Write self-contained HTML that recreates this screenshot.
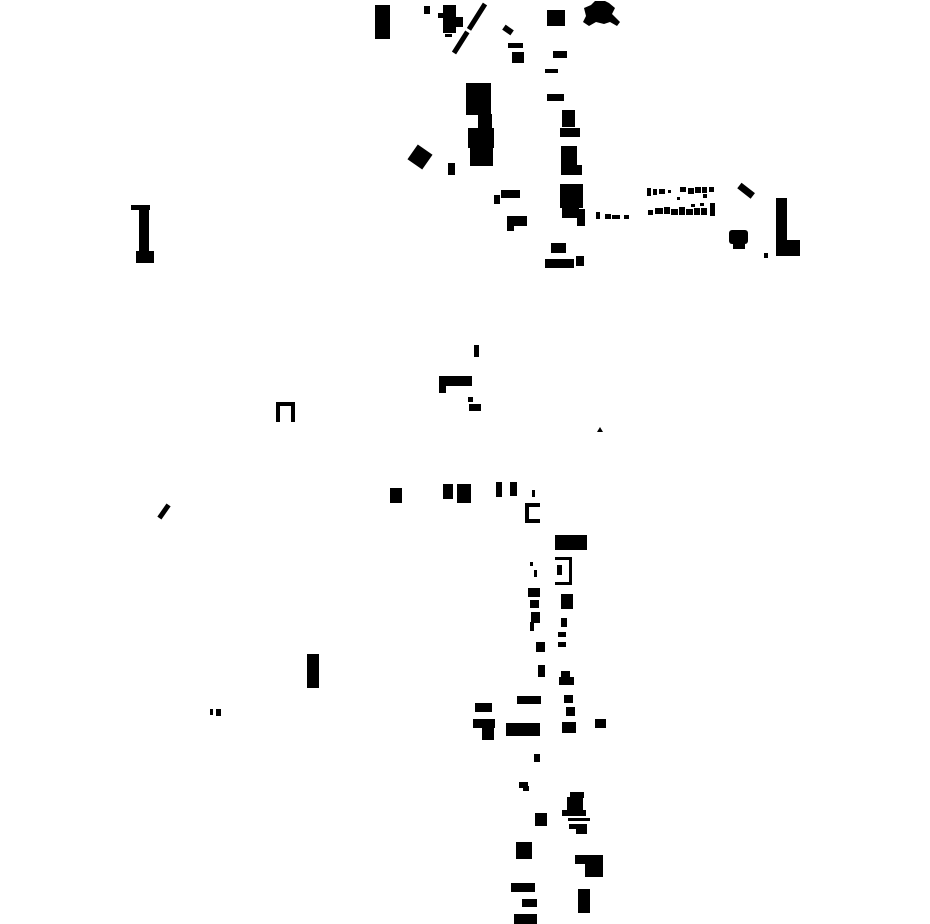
<!DOCTYPE html>
<html><head><meta charset="utf-8"><style>html,body{margin:0;padding:0;background:#fff}svg{display:block}</style></head>
<body>
<svg width="930" height="924" viewBox="0 0 930 924" xmlns="http://www.w3.org/2000/svg">
<g fill="#000">
<!-- top cluster -->
<rect x="375" y="5" width="15" height="34"/>
<rect x="424" y="6" width="6" height="8"/>
<rect x="443" y="5" width="13" height="28"/>
<rect x="438" y="13" width="6" height="5"/>
<rect x="456" y="17" width="7" height="10"/>
<rect x="445" y="34" width="7" height="3"/>
<line x1="485" y1="4" x2="454" y2="53" stroke="#000" stroke-width="5" stroke-dasharray="30 3"/>
<rect x="503" y="27" width="10" height="6" transform="rotate(35 508 30)"/>
<rect x="508" y="43" width="15" height="5"/>
<rect x="512" y="52" width="12" height="11"/>
<rect x="547" y="10" width="18" height="16"/>
<polygon points="584,8 591,5 595,1 605,1 609,3 615,8 612,14 620,22 617,26 610,22 604,24 596,22 589,26 583,22 586,16"/>
<rect x="553" y="51" width="14" height="7"/>
<rect x="545" y="69" width="13" height="4"/>
<rect x="547" y="94" width="17" height="7"/>
<rect x="466" y="83" width="25" height="32"/>
<rect x="478" y="114" width="14" height="15"/>
<rect x="468" y="128" width="26" height="20"/>
<rect x="470" y="147" width="23" height="19"/>
<rect x="411" y="148" width="18" height="18" transform="rotate(35 420 157)"/>
<rect x="448" y="163" width="7" height="12"/>
<rect x="562" y="110" width="13" height="17"/>
<rect x="560" y="128" width="20" height="9"/>
<rect x="561" y="146" width="16" height="29"/>
<rect x="561" y="165" width="21" height="10"/>
<rect x="560" y="184" width="23" height="24"/>
<rect x="562" y="207" width="17" height="11"/>
<rect x="577" y="209" width="8" height="17"/>
<rect x="501" y="190" width="19" height="8"/>
<rect x="494" y="195" width="6" height="9"/>
<rect x="507" y="216" width="20" height="10"/>
<rect x="507" y="216" width="7" height="15"/>
<rect x="551" y="243" width="15" height="10"/>
<rect x="545" y="259" width="29" height="9"/>
<rect x="576" y="256" width="8" height="10"/>
<!-- right small dots -->
<rect x="596" y="212" width="4" height="7"/>
<rect x="605" y="214" width="6" height="5"/>
<rect x="612" y="215" width="8" height="4"/>
<rect x="624" y="215" width="5" height="4"/>
<rect x="647" y="188" width="4" height="8"/><rect x="653" y="189" width="4" height="6"/><rect x="659" y="189" width="6" height="5"/><rect x="668" y="190" width="3" height="3"/>
<rect x="680" y="187" width="6" height="5"/><rect x="688" y="188" width="6" height="6"/><rect x="695" y="187" width="6" height="6"/><rect x="702" y="187" width="5" height="6"/><rect x="709" y="187" width="5" height="5"/><rect x="703" y="194" width="4" height="4"/><rect x="677" y="197" width="3" height="3"/>
<rect x="648" y="210" width="5" height="5"/><rect x="655" y="208" width="8" height="6"/><rect x="664" y="207" width="6" height="7"/><rect x="671" y="209" width="7" height="6"/><rect x="679" y="207" width="6" height="8"/><rect x="686" y="209" width="7" height="6"/><rect x="694" y="208" width="6" height="7"/><rect x="701" y="208" width="6" height="7"/><rect x="710" y="203" width="5" height="13"/><rect x="691" y="204" width="4" height="3"/><rect x="700" y="203" width="4" height="3"/>
<rect x="738" y="187" width="17" height="7" transform="rotate(38 746 190)"/>
<rect x="776" y="198" width="11" height="58"/>
<rect x="776" y="240" width="24" height="16"/>
<rect x="729" y="230" width="19" height="14" rx="3"/>
<rect x="733" y="240" width="12" height="9"/>
<rect x="764" y="253" width="4" height="5"/>
<!-- left I -->
<rect x="139" y="205" width="10" height="58"/>
<rect x="131" y="205" width="19" height="5"/>
<rect x="136" y="251" width="18" height="12"/>
<!-- middle -->
<rect x="474" y="345" width="5" height="12"/>
<rect x="439" y="376" width="33" height="10"/>
<rect x="439" y="385" width="7" height="8"/>
<rect x="468" y="397" width="5" height="5"/><rect x="469" y="404" width="12" height="7"/>
<polygon points="597,432 600,427 603,432"/>
<path d="M276,402 h19 v20 h-4 v-16 h-11 v16 h-4 z"/>
<rect x="390" y="488" width="12" height="15"/>
<rect x="443" y="484" width="10" height="15"/>
<rect x="457" y="484" width="14" height="19"/>
<rect x="496" y="482" width="6" height="15"/>
<rect x="510" y="482" width="7" height="14"/>
<rect x="532" y="490" width="3" height="7"/>
<path d="M525,503 h15 v4 h-11 v12 h11 v4 h-15 z"/>
<rect x="156" y="510" width="16" height="5" transform="rotate(-55 163 512)"/>
<!-- lower -->
<rect x="555" y="535" width="32" height="15"/>
<path d="M555,557 h17 v28 h-17 v-3 h14 v-22 h-14 z"/>
<rect x="557" y="565" width="5" height="10"/>
<rect x="530" y="562" width="3" height="4"/>
<rect x="534" y="570" width="3" height="7"/>
<rect x="528" y="588" width="12" height="9"/>
<rect x="530" y="600" width="9" height="8"/>
<rect x="531" y="612" width="9" height="11"/>
<rect x="530" y="622" width="4" height="9"/>
<rect x="561" y="594" width="12" height="15"/>
<rect x="561" y="618" width="6" height="9"/>
<rect x="558" y="632" width="8" height="5"/>
<rect x="558" y="642" width="8" height="5"/>
<rect x="536" y="642" width="9" height="10"/>
<rect x="538" y="665" width="7" height="12"/>
<rect x="561" y="671" width="9" height="8"/>
<rect x="559" y="677" width="15" height="8"/>
<rect x="517" y="696" width="24" height="8"/>
<rect x="475" y="703" width="17" height="9"/>
<rect x="473" y="719" width="22" height="9"/>
<rect x="482" y="727" width="12" height="13"/>
<rect x="506" y="723" width="34" height="13"/>
<rect x="564" y="695" width="9" height="8"/>
<rect x="566" y="707" width="9" height="9"/>
<rect x="562" y="722" width="14" height="11"/>
<rect x="595" y="719" width="11" height="9"/>
<rect x="307" y="654" width="12" height="34"/>
<rect x="210" y="709" width="3" height="6"/><rect x="216" y="709" width="5" height="7"/>
<rect x="534" y="754" width="6" height="8"/>
<rect x="519" y="782" width="9" height="6"/><rect x="523" y="786" width="6" height="5"/>
<rect x="535" y="813" width="12" height="13"/>
<rect x="570" y="792" width="14" height="6"/>
<rect x="567" y="797" width="16" height="13"/>
<rect x="562" y="810" width="24" height="6"/>
<rect x="568" y="818" width="22" height="3"/>
<rect x="569" y="824" width="18" height="5"/>
<rect x="576" y="828" width="11" height="6"/>
<rect x="516" y="842" width="16" height="17"/>
<rect x="575" y="855" width="28" height="9"/>
<rect x="585" y="855" width="18" height="22"/>
<rect x="578" y="889" width="12" height="24"/>
<rect x="511" y="883" width="24" height="9"/>
<rect x="522" y="899" width="15" height="8"/>
<rect x="514" y="914" width="23" height="10"/>
</g>
</svg>
</body></html>
